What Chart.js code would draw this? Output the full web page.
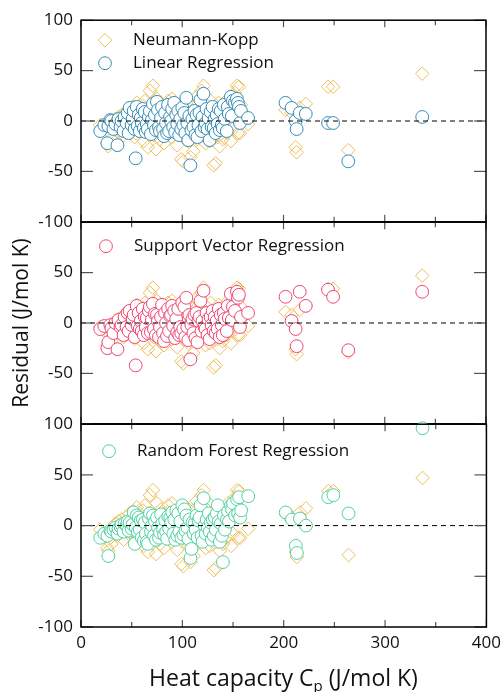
<!DOCTYPE html>
<html>
<head>
<meta charset="utf-8">
<script src="https://cdn.jsdelivr.net/npm/chart.js@4.4.1/dist/chart.umd.min.js"></script>
<style>
    body { margin: 0; background: #fff; width: 501px; height: 692px; position: relative; overflow: hidden; font-family: 'Open Sans', sans-serif; }
    canvas { position: absolute; left: 0; top: 0; }
    #xTitle { position: absolute; left: 0; width: 567px; top: 661px; text-align: center; font-size: 23px; color: #111; white-space: nowrap; }
    #xTitle sub { font-size: 15px; vertical-align: -5px; line-height: 0; }
</style>
</head>
<body>
<canvas id="c1" width="501" height="232"></canvas>
<canvas id="c2" width="501" height="222"></canvas>
<canvas id="c3" width="501" height="278"></canvas>
<div id="xTitle">Heat capacity C<sub>p</sub> (J/mol K)</div>
<script>
// Heat capacity of each compound (x) and residuals of each model (y)
const heatCapacity = [
    19, 23, 26, 27, 29, 30, 32, 34, 36, 37,
    39, 40, 42, 43, 45, 46, 47, 48, 50, 51,
    52, 53, 54, 55, 56, 57, 58, 59, 60, 61,
    62, 63, 64, 65, 66, 67, 68, 69, 70, 71,
    72, 73, 74, 75, 76, 77, 78, 79, 80, 81,
    82, 83, 84, 85, 86, 87, 88, 89, 90, 91,
    92, 93, 94, 95, 96, 97, 98, 99, 100, 101,
    102, 103, 104, 105, 106, 107, 108, 109, 110, 111,
    112, 113, 114, 115, 116, 117, 118, 119, 120, 121,
    122, 123, 124, 125, 126, 127, 128, 129, 130, 131,
    132, 133, 134, 135, 136, 137, 138, 139, 140, 141,
    142, 144, 145, 146, 148, 149, 150, 152, 154, 155,
    156, 157, 158, 165,
    202, 208, 212, 213, 216, 222, 244, 249, 264, 337
];

const residNeumannKopp = [
    -4, -8, -22, -25, -12, -18, -6, 2, -10, 4,
    -2, 6, -14, 3, -5, 10, -8, 12, -3, 5,
    14, -16, -12, 18, 0, -6, 8, 2, -10, 15,
    -20, 20, -4, 6, -26, 12, 30, -8, 2, 35,
    -14, 10, -28, 22, -5, 8, -18, 16, -2, 4,
    -22, 12, 0, -10, 20, -6, 6, -16, 22, -4,
    10, -12, 4, -24, 16, -8, 2, -38, 12, -40,
    6, -14, 18, -6, -20, 8, -36, -2, 14, -30,
    4, -10, 24, -18, 8, 0, -8, 30, -14, 35,
    10, -22, 16, -4, 6, -20, 20, -10, 4, -44,
    12, -42, 2, -16, 18, -25, 8, -6, -18, 14,
    0, -12, 22, 6, -20, 10, -8, 28, 35, -12,
    34, -12, 16, -3,
    11, 8, -26, -31, 13, 17, 34, 34, -29, 47
];

const residLinear = [
    -10, -4, -22, -5, 1, 0, -8, -3, -24, 2,
    -6, 0, -10, 4, -2, 8, -12, 13, -4, 2,
    10, -8, -37, 14, -5, 6, -10, 3, -2, 12,
    -7, 9, -11, -3, -8, 4, 10, -13, 1, 17,
    -4, 6, -9, 19, 11, -6, -10, 3, 14, -8,
    -15, 8, -2, -12, 16, -10, 4, 0, 12, -6,
    18, -11, 6, -3, 10, -14, 2, -8, 13, -4,
    8, -12, 23, -2, -19, 5, -44, -9, 2, -6,
    10, -14, 6, -16, -4, 8, 21, -10, 4, 27,
    -6, -2, 12, -8, 3, -19, 9, -6, 14, -7,
    2, -12, 6, -3, 12, -9, 10, -4, -7, 16,
    2, -10, 14, 7, 24, 5, 20, 18, 22, 18,
    14, -2, 10, 3,
    18, 13, 0, -8, 8, 7, -2, -2, -40, 4
];

const residSVR = [
    -6, -3, -25, -19, -2, -5, -10, 0, -26, 3,
    -4, -2, -12, 6, -4, 10, -8, 12, -2, 4,
    8, -14, -42, 17, -3, 10, -6, 2, -8, 14,
    -12, 6, -4, 5, -10, 12, 16, -9, 3, 19,
    -6, 9, -12, 8, 2, -14, -4, 6, 18, -10,
    -18, 10, 0, -13, 14, -8, 7, 8, 17, -3,
    12, -15, 4, -9, 14, -12, -4, -10, 20, -6,
    16, -14, 25, -4, -17, 8, -36, -2, 4, -10,
    8, -15, 10, -19, 2, 6, 22, -8, 2, 32,
    -4, -6, 10, -12, 4, -16, 6, -2, 12, -8,
    6, -10, 2, -6, 14, -14, 8, -2, -12, 10,
    4, -8, 17, 5, 29, 3, 16, 12, 31, 25,
    28, -4, 6, 10,
    26, 2, -6, -23, 31, 17, 33, 26, -27, 31
];

const residRandomForest = [
    -12, -8, -10, -30, -5, -6, -4, -2, -8, -3,
    -1, 1, -6, 2, 0, 4, -5, 3, -3, 1,
    13, -18, -2, 10, -6, 8, -4, 5, -12, 6,
    -15, 3, -8, -16, -18, 7, 12, -6, 0, 10,
    -10, 4, -14, 8, -2, -12, -7, 11, 2, -4,
    -9, 5, -6, -13, 9, -3, 8, 3, 13, -8,
    6, -14, 15, -10, 12, -6, 4, -12, 20, -9,
    16, -5, 10, -2, -13, 6, -32, -23, 3, -8,
    2, -4, 10, -12, 5, 8, 20, -10, -16, 27,
    0, -8, 6, -2, 12, -6, 3, -14, 6, -10,
    8, -4, 12, 20, 4, -16, 2, -10, -36, 10,
    -4, 6, 14, 4, 20, 16, 22, 10, 26, 12,
    28, 8, 15, 29,
    13, 6, -20, -27, 7, 0, 28, 30, 12, 96
];

const xTicks = [0, 100, 200, 300, 400];
const xMinorTicks = [50, 150, 250, 350];
const yTicks = [-100, -50, 0, 50, 100];

const tickFont = { family: "'Open Sans', sans-serif", size: 17 };
const nkColor = '#EFBE5C';

// box around each panel + inward tick marks
const panelFrame = {
    id: 'panelFrame',
    afterDraw(chart) {
        const { ctx, chartArea: a, scales: { x, y } } = chart;
        const line = (x1, y1, x2, y2) => { ctx.beginPath(); ctx.moveTo(x1, y1); ctx.lineTo(x2, y2); ctx.stroke(); };
        ctx.save();
        ctx.strokeStyle = '#555';
        ctx.lineWidth = 1.2;
        yTicks.forEach(v => {
            const py = y.getPixelForValue(v);
            line(a.left, py, a.left + 12, py);
            line(a.right - 12, py, a.right, py);
        });
        xTicks.forEach(v => {
            const px = x.getPixelForValue(v);
            line(px, a.top, px, a.top + 7);
            line(px, a.bottom - 7, px, a.bottom);
        });
        xMinorTicks.forEach(v => {
            const px = x.getPixelForValue(v);
            line(px, a.top, px, a.top + 5);
            line(px, a.bottom - 5, px, a.bottom);
        });
        ctx.strokeStyle = '#000';
        ctx.lineWidth = 1.5;
        ctx.strokeRect(a.left, a.top, a.width, a.height);
        ctx.restore();
    }
};

// legend drawn inside the plot area
const insideLegend = {
    id: 'insideLegend',
    afterDraw(chart, args, opts) {
        const { ctx, chartArea: a } = chart;
        ctx.save();
        opts.items.forEach((idx, k) => {
            const ds = chart.data.datasets[idx];
            const mx = a.left + opts.x;
            const my = a.top + opts.y + k * 23;
            const r = ds.pointRadius;
            ctx.beginPath();
            if (ds.pointStyle === 'rectRot') {
                ctx.moveTo(mx, my - r); ctx.lineTo(mx + r, my); ctx.lineTo(mx, my + r); ctx.lineTo(mx - r, my); ctx.closePath();
            } else {
                ctx.arc(mx, my, r, 0, Math.PI * 2);
            }
            ctx.fillStyle = '#fff';
            ctx.fill();
            ctx.strokeStyle = ds.pointBorderColor;
            ctx.lineWidth = 1;
            ctx.stroke();
            ctx.fillStyle = '#111';
            ctx.font = "17px 'Open Sans', sans-serif";
            ctx.textBaseline = 'middle';
            ctx.fillText(ds.label, mx + 28, my);
        });
        ctx.restore();
    }
};

function toPoints(values) {
    return heatCapacity.map((x, i) => ({ x: x, y: values[i] }));
}

function makePanel(id, label, values, color, cfg) {
    const ctx = document.getElementById(id).getContext('2d');
    return new Chart(ctx, {
        type: 'scatter',
        data: {
            datasets: [
                {
                    type: 'line',
                    label: 'zero',
                    data: [{ x: xTicks[0], y: 0 }, { x: xTicks[xTicks.length - 1], y: 0 }],
                    borderColor: '#000',
                    borderWidth: 1,
                    borderDash: [5, 4],
                    pointRadius: 0,
                    order: 0
                },
                {
                    label: label,
                    data: toPoints(values),
                    pointStyle: 'circle',
                    pointRadius: 6.4,
                    pointBorderWidth: 1,
                    pointBorderColor: color,
                    pointBackgroundColor: '#fff',
                    clip: false,
                    order: 1
                },
                {
                    label: 'Neumann-Kopp',
                    data: toPoints(residNeumannKopp),
                    pointStyle: 'rectRot',
                    pointRadius: 6.8,
                    pointBorderWidth: 1,
                    pointBorderColor: nkColor,
                    pointBackgroundColor: 'rgba(255,255,255,0)',
                    order: 2
                }
            ]
        },
        options: {
            responsive: false,
            maintainAspectRatio: false,
            animation: false,
            events: [],
            layout: { padding: cfg.padding },
            plugins: {
                legend: { display: false },
                tooltip: { enabled: false },
                insideLegend: cfg.legend
            },
            scales: {
                x: {
                    type: 'linear',
                    min: xTicks[0],
                    max: xTicks[xTicks.length - 1],
                    display: cfg.showX,
                    ticks: { stepSize: 100, font: tickFont, color: '#111', padding: 6, maxRotation: 0 },
                    grid: { display: false, drawTicks: false },
                    border: { display: false },
                    afterFit: s => { s.height = cfg.showX ? 65 : 0; }
                },
                y: {
                    min: yTicks[0],
                    max: yTicks[yTicks.length - 1],
                    ticks: {
                        stepSize: 50,
                        font: tickFont,
                        color: '#111',
                        padding: 8,
                        callback: v => cfg.hideEnds && Math.abs(v) === 100 ? '' : v
                    },
                    grid: { display: false, drawTicks: false },
                    border: { display: false },
                    title: cfg.yTitle ? {
                        display: true,
                        text: 'Residual (J/mol K)',
                        font: { family: "'Open Sans', sans-serif", size: 21 },
                        color: '#111',
                        padding: { top: 9, bottom: 0 }
                    } : { display: false },
                    afterFit: s => { s.width = 81; }
                }
            }
        },
        plugins: [panelFrame, insideLegend]
    });
}

// size each canvas so its plot area sits exactly inside the given box
function placePanel(chart, top, bottom, right) {
    for (let i = 0; i < 3; i++) {
        const a = chart.chartArea;
        const w = Math.round(chart.width + right - a.right);
        const h = Math.round(chart.height + (bottom - top) - (a.bottom - a.top));
        chart.resize(w, h);
        chart.update();
    }
    chart.canvas.style.top = (top - chart.chartArea.top) + 'px';
}

const panel1 = makePanel('c1', 'Linear Regression', residLinear, '#348CB4', {
    padding: { top: 12, bottom: 12, left: 0, right: 15 },
    showX: false, hideEnds: false, yTitle: false,
    legend: { items: [2, 1], x: 24, y: 20 }
});
const panel2 = makePanel('c2', 'Support Vector Regression', residSVR, '#EE4670', {
    padding: { top: 12, bottom: 12, left: 0, right: 15 },
    showX: false, hideEnds: true, yTitle: true,
    legend: { items: [1], x: 25, y: 24 }
});
const panel3 = makePanel('c3', 'Random Forest Regression', residRandomForest, '#4FD1A0', {
    padding: { top: 12, bottom: 0, left: 0, right: 15 },
    showX: true, hideEnds: false, yTitle: false,
    legend: { items: [1], x: 28, y: 27 }
});

placePanel(panel1, 20, 222, 486);
placePanel(panel2, 222, 424, 486);
placePanel(panel3, 424, 627, 486);
</script>
</body>
</html>
